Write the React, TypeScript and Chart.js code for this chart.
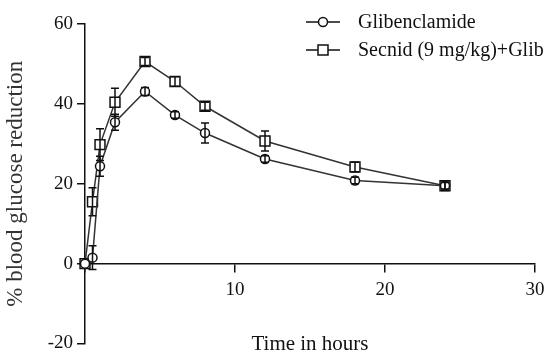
import React, { useEffect, useRef } from 'react';
import { Chart, registerables } from 'chart.js';

Chart.register(...registerables);

const hours = [0, 0.5, 1, 2, 4, 6, 8, 12, 18, 24];
const glibValues = [0, 1.5, 24.4, 35.4, 43.1, 37.2, 32.7, 26.2, 20.8, 19.5];
const glibErrors = [0, 3, 2.5, 2, 1, 0.8, 2.5, 0.8, 0.8, 0.8];
const secnidValues = [0, 15.5, 29.8, 40.4, 50.6, 45.6, 39.4, 30.7, 24.2, 19.5];
const secnidErrors = [0, 3.5, 4, 3.5, 1, 1.2, 1, 2.5, 1.2, 1.2];
const seriesLabels = ['Glibenclamide', 'Secnid (9 mg/kg)+Glib'];
const pointStyles = ['circle', 'rect'];
const xTitle = 'Time in hours';
const yTitle = '% blood glucose reduction';

const FONT = "'Liberation Serif', 'Times New Roman', serif";
const INK = '#111';
const LINE = '#333';

const errorBarPlugin = {
  id: 'errorBars',
  afterDatasetsDraw(chart: any) {
    const { ctx } = chart;
    const xs = chart.scales.x;
    const ys = chart.scales.y;
    chart.data.datasets.forEach((ds: any) => {
      const errs: number[] = ds.errors || [];
      ds.data.forEach((p: any, j: number) => {
        const e = errs[j];
        if (!e) return;
        const px = xs.getPixelForValue(p.x);
        const top = ys.getPixelForValue(p.y + e);
        const bot = ys.getPixelForValue(p.y - e);
        ctx.save();
        ctx.strokeStyle = INK;
        ctx.lineWidth = 1.5;
        ctx.beginPath();
        ctx.moveTo(px, top);
        ctx.lineTo(px, bot);
        ctx.moveTo(px - 4, top);
        ctx.lineTo(px + 4, top);
        ctx.moveTo(px - 4, bot);
        ctx.lineTo(px + 4, bot);
        ctx.stroke();
        ctx.restore();
      });
    });
  },
};

const legendPlugin = {
  id: 'lineLegend',
  afterDraw(chart: any) {
    const { ctx } = chart;
    const rows = [22, 50];
    chart.data.datasets.forEach((ds: any, i: number) => {
      const y = rows[i];
      ctx.save();
      ctx.strokeStyle = INK;
      ctx.lineWidth = 1.5;
      ctx.beginPath();
      ctx.moveTo(306, y);
      ctx.lineTo(340, y);
      ctx.stroke();
      ctx.fillStyle = '#fff';
      ctx.beginPath();
      if (ds.pointStyle === 'circle') {
        ctx.arc(323, y, 4.5, 0, Math.PI * 2);
      } else {
        ctx.rect(318, y - 5, 10, 10);
      }
      ctx.fill();
      ctx.stroke();
      ctx.fillStyle = INK;
      ctx.font = `20px ${FONT}`;
      ctx.textBaseline = 'middle';
      ctx.textAlign = 'left';
      ctx.fillText(ds.label, 358, y + 1);
      ctx.restore();
    });
  },
};

export default function App() {
  const ref = useRef<HTMLCanvasElement | null>(null);

  useEffect(() => {
    if (!ref.current) return;
    const mk = (vals: number[]) => hours.map((h, i) => ({ x: h, y: vals[i] }));
    const common = {
      borderColor: LINE,
      backgroundColor: '#fff',
      pointBackgroundColor: '#fff',
      pointBorderColor: INK,
      pointBorderWidth: 1.5,
      borderWidth: 1.5,
      tension: 0,
      clip: false,
    };
    const chart = new Chart(ref.current, {
      type: 'line',
      data: {
        datasets: [
          {
            ...common,
            label: seriesLabels[0],
            data: mk(glibValues),
            errors: glibErrors,
            pointStyle: pointStyles[0],
            pointRadius: 4.5,
          } as any,
          {
            ...common,
            label: seriesLabels[1],
            data: mk(secnidValues),
            errors: secnidErrors,
            pointStyle: pointStyles[1],
            pointRadius: 7,
          } as any,
        ],
      },
      options: {
        responsive: false,
        animation: false,
        devicePixelRatio: 1,
        layout: { padding: { left: 0, top: 24, right: 21, bottom: 7 } },
        plugins: {
          legend: { display: false },
          tooltip: { enabled: false },
        },
        scales: {
          x: {
            type: 'linear',
            position: { y: 0 } as any,
            min: 0,
            max: 30,
            ticks: {
              stepSize: 10,
              color: INK,
              font: { family: FONT, size: 19 },
              padding: 7,
              maxRotation: 0,
              callback: (v: any) => (v === 0 ? '' : String(v)),
            },
            grid: {
              display: true,
              drawOnChartArea: false,
              drawTicks: true,
              tickLength: 8,
              color: INK,
              lineWidth: 1.5,
            },
            border: { display: true, color: INK, width: 1.5 },
            title: {
              display: true,
              text: xTitle,
              color: INK,
              font: { family: FONT, size: 21 },
              padding: { top: 23, bottom: 0 },
            },
            afterFit: (s: any) => {
              s.paddingLeft = 0;
              s.paddingRight = 0;
            },
          },
          y: {
            type: 'linear',
            position: 'left',
            min: -20,
            max: 60,
            ticks: {
              stepSize: 20,
              color: INK,
              font: { family: FONT, size: 19 },
              padding: 4,
            },
            grid: {
              display: true,
              drawOnChartArea: false,
              drawTicks: true,
              tickLength: 8,
              color: INK,
              lineWidth: 1.5,
            },
            border: { display: true, color: INK, width: 1.5 },
            title: {
              display: true,
              text: yTitle,
              color: '#333',
              font: { family: FONT, size: 23 },
              padding: { top: 2, bottom: 0 },
            },
            afterFit: (s: any) => {
              s.width = 85;
              s.paddingTop = 0;
              s.paddingBottom = 0;
            },
          },
        },
      } as any,
      plugins: [errorBarPlugin, legendPlugin],
    });
    return () => chart.destroy();
  }, []);

  return (
    <div style={{ position: 'absolute', left: 0, top: 0, width: 556, height: 352, background: '#fff' }}>
      <canvas ref={ref} width={556} height={352} />
    </div>
  );
}
